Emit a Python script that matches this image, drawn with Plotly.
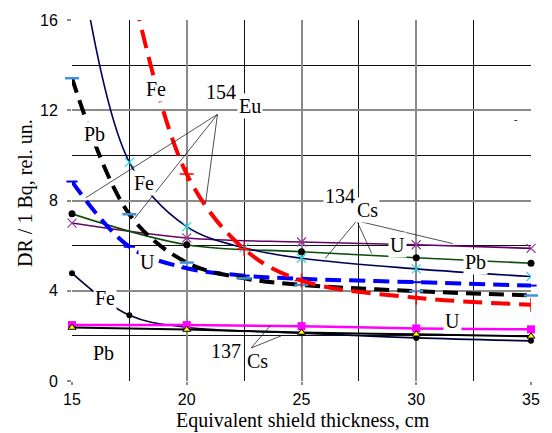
import plotly.graph_objects as go

# thickness values (cm)
x_all = [15, 17.5, 20, 22.5, 25, 30, 35]
x_five = [15, 20, 25, 30, 35]
x_six = [15, 17.5, 20, 25, 30, 35]

# 154Eu
eu_fe_x = [17.5, 20, 22.5, 25, 30, 35]
eu_fe = [18.0, 9.17, 5.85, 4.45, 3.69, 3.38]
eu_pb = [13.42, 7.39, 5.25, 4.55, 4.26, 3.98, 3.79]
eu_u = [8.84, 5.95, 5.0, 4.67, 4.53, 4.38, 4.23]

# 134Cs
cs134_fe = [21.0, 9.69, 6.84, 5.9, 5.44, 4.97, 4.63]
cs134_pb = [7.41, 6.04, 5.73, 5.46, 5.22]
cs134_u = [7.0, 6.34, 6.16, 6.04, 5.88]

# 137Cs
cs137_fe = [4.78, 2.91, 2.38, 2.12, 1.91, 1.78]
cs137_u = [2.48, 2.48, 2.43, 2.33, 2.29]
cs137_pb = [2.37, 2.28, 2.15, 2.07, 1.98]

fig = go.Figure()

def add(x, y, color, width, dash=None, symbol=None, msize=8, mcolor=None,
        mline=None, clip=False, shape="spline"):
    marker = dict(symbol=symbol, size=msize, color=mcolor or color)
    if mline is not None:
        marker["line"] = mline
    fig.add_trace(go.Scatter(
        x=x, y=y, mode="lines+markers",
        line=dict(color=color, width=width, dash=dash, shape=shape, smoothing=1),
        marker=marker, cliponaxis=clip, showlegend=False))

# 137Cs
add(x_six, cs137_fe, "#000033", 1.6, symbol="circle", msize=6, mcolor="black")
add(x_five, cs137_u, "#ff00ff", 2.5, symbol="square", msize=8, mcolor="#ff00ff")
add(x_five, cs137_pb, "black", 2, symbol="triangle-up", msize=7, mcolor="#ffff00",
    mline=dict(color="black", width=1))
# 134Cs
add(x_five, cs134_u, "#660066", 1.6, symbol="x-thin", msize=9,
    mline=dict(color="#993399", width=1.2))
add(x_five, cs134_pb, "#0b4d0b", 1.6, symbol="circle", msize=7, mcolor="black")
add(x_all, cs134_fe, "#000055", 1.6, symbol="x-thin", msize=9,
    mline=dict(color="#22dddd", width=1.2), clip=True)
# 154Eu
add(x_all, eu_u, "#0000ff", 4, dash="16px,8px", symbol="line-ew", msize=8,
    mline=dict(color="#0000ff", width=2))
add(x_all, eu_pb, "black", 4, dash="15px,8px", symbol="line-ew", msize=10,
    mline=dict(color="#3f94d8", width=2.5))
add(eu_fe_x, eu_fe, "#ff0000", 4, dash="19px,9px", symbol="cross-thin", msize=10,
    mline=dict(color="#ff0000", width=1.5), clip=True)

serif = "Liberation Serif"
labels = [
    ("Fe", 18.66, 12.92), ("Pb", 15.99, 10.94), ("Fe", 18.15, 8.78),
    ("U", 18.28, 5.29), ("U", 29.18, 6.04), ("Pb", 32.59, 5.29),
    ("U", 31.59, 2.65), ("Fe", 16.42, 3.66), ("Pb", 16.38, 1.24),
    ("154", 21.51, 12.79), ("Eu", 22.76, 12.17),
    ("134", 26.68, 8.20), ("Cs", 27.89, 7.59),
    ("137", 21.72, 1.32), ("Cs", 23.10, 0.88),
]
for t, lx, ly in labels:
    fig.add_annotation(x=lx, y=ly, text=t, showarrow=False, bgcolor="white",
                       borderpad=1, font=dict(family=serif, size=20, color="black"))

fig.add_annotation(x=34.31, y=11.6, text="-", showarrow=False,
                   font=dict(family=serif, size=10, color="black"))

leaders = [
    ((21.34, 11.82), (15.60, 8.12)),
    ((21.34, 11.82), (17.72, 7.19)),
    ((21.34, 11.82), (20.82, 7.90)),
    ((27.41, 7.10), (26.03, 5.43)),
    ((27.41, 7.10), (28.06, 5.65)),
    ((27.41, 7.10), (31.59, 6.09)),
    ((22.80, 1.46), (23.66, 2.47)),
    ((22.80, 1.46), (24.18, 2.03)),
]
for (x0, y0), (x1, y1) in leaders:
    fig.add_shape(type="line", x0=x0, y0=y0, x1=x1, y1=y1, xref="x", yref="y",
                  line=dict(color="#222222", width=0.8))

fig.add_annotation(xref="paper", yref="paper", x=-0.101, y=0.52,
                   text="DR / 1 Bq, rel. un.", textangle=-90, showarrow=False,
                   xanchor="center", yanchor="middle",
                   font=dict(family=serif, size=20, color="black"))
fig.add_annotation(xref="paper", yref="paper", x=0.503, y=-0.11,
                   text="Equivalent shield thickness, cm", showarrow=False,
                   xanchor="center", yanchor="middle",
                   font=dict(family=serif, size=20, color="black"))

tickfont = dict(family="Liberation Sans", size=16, color="black")
fig.update_xaxes(range=[15, 35], tick0=15, dtick=5, showgrid=True,
                 gridcolor="#8a8a8a", gridwidth=2, zeroline=False,
                 ticks="outside", ticklen=3, tickcolor="#8a8a8a", tickwidth=2,
                 tickfont=tickfont, ticklabelstandoff=1,
                 minor=dict(dtick=2.5, tick0=15, showgrid=True,
                            gridcolor="#111111", gridwidth=1))
fig.update_yaxes(range=[0, 16], tick0=0, dtick=4, showgrid=True,
                 gridcolor="#8a8a8a", gridwidth=2, zeroline=False,
                 ticks="outside", ticklen=4, tickcolor="#8a8a8a", tickwidth=2,
                 tickfont=tickfont, ticklabelstandoff=6,
                 minor=dict(dtick=2, tick0=0, showgrid=True,
                            gridcolor="#111111", gridwidth=1))

fig.update_layout(width=552, height=433, margin=dict(l=72, r=15, t=18, b=52),
                  plot_bgcolor="white", paper_bgcolor="white")

fig.write_html("out.html")
